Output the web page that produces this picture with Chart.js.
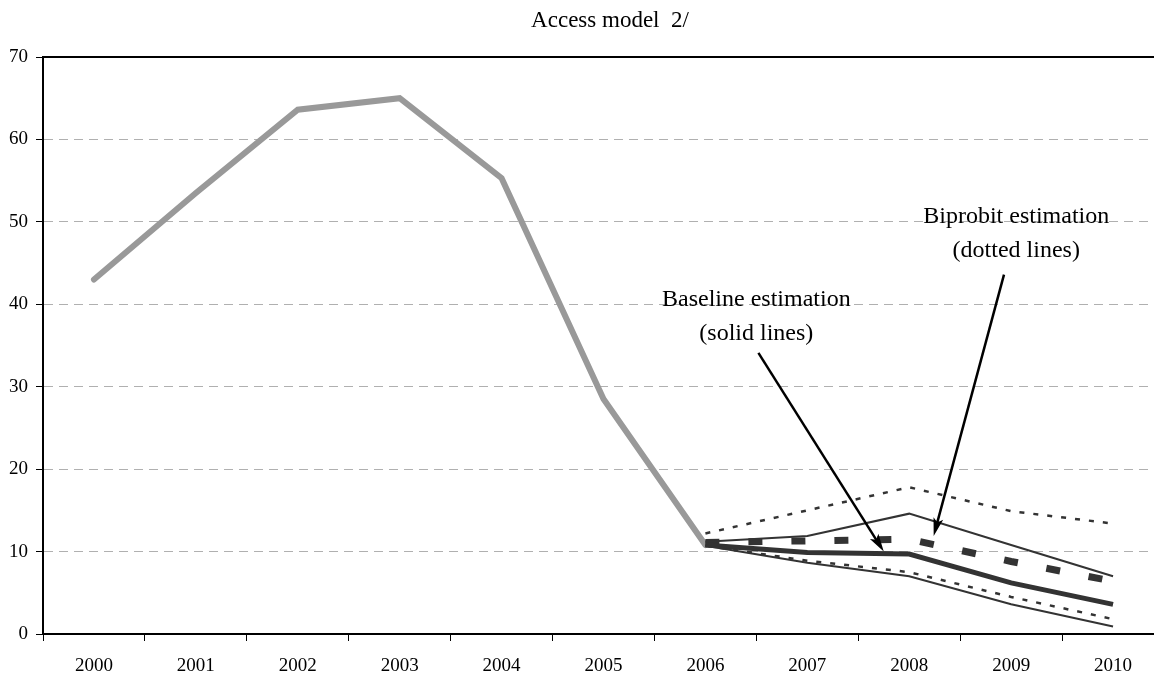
<!DOCTYPE html>
<html>
<head>
<meta charset="utf-8">
<script src="https://cdn.jsdelivr.net/npm/chart.js@4/dist/chart.umd.min.js"></script>
<style>
  html, body { margin: 0; padding: 0; background: #fff; overflow: hidden; }
  #wrap { width: 1154px; height: 677px; overflow: hidden; }
</style>
</head>
<body>
<div id="wrap"><canvas id="accessChart" width="1180" height="677"></canvas></div>
<script>
// years on the category axis
const years = ['2000', '2001', '2002', '2003', '2004', '2005', '2006', '2007', '2008', '2009', '2010'];

// observed series (grey)
const observed = [43, 53.5, 63.6, 65, 55.3, 28.5, 10.8, null, null, null, null];

// baseline estimation (solid lines)
const baselineMean  = [null, null, null, null, null, null, 10.8, 9.9, 9.7, 6.2, 3.6];
const baselineUpper = [null, null, null, null, null, null, 11.2, 11.9, 14.6, 10.8, 7.0];
const baselineLower = [null, null, null, null, null, null, 10.7, 8.65, 7.0, 3.6, 0.9];

// biprobit estimation (dotted lines)
const biprobitMean  = [null, null, null, null, null, null, 11.1, 11.3, 11.5, 8.8, 6.4];
const biprobitUpper = [null, null, null, null, null, null, 12.2, 15.0, 17.8, 14.9, 13.4];
const biprobitLower = [null, null, null, null, null, null, 10.7, 8.9, 7.5, 4.5, 1.8];

const yTicks = [0, 10, 20, 30, 40, 50, 60, 70];

Chart.defaults.font.family = 'Liberation Serif';
Chart.defaults.color = '#000';

//draw the frame, title and the two callouts
const notesPlugin = {
  id: 'notes',
  afterDatasetsDraw(chart) {
    const ctx = chart.ctx;
    const xs = chart.scales.x, ys = chart.scales.y;
    const area = chart.chartArea;
    ctx.save();

    // top frame line
    ctx.strokeStyle = '#000';
    ctx.lineWidth = 2;
    ctx.beginPath();
    ctx.moveTo(area.left, area.top);
    ctx.lineTo(area.right, area.top);
    ctx.stroke();

    // title
    ctx.fillStyle = '#000';
    ctx.textAlign = 'center';
    ctx.textBaseline = 'middle';
    ctx.font = '23px "Liberation Serif"';
    ctx.fillText('Access model  2/', 610, 21);

    // callout text
    ctx.font = '24px "Liberation Serif"';
    ctx.fillText('Baseline estimation', xs.getPixelForValue(6.5), ys.getPixelForValue(40.5));
    ctx.fillText('(solid lines)', xs.getPixelForValue(6.5), ys.getPixelForValue(36.4));
    ctx.fillText('Biprobit estimation', xs.getPixelForValue(9.05), ys.getPixelForValue(50.6));
    ctx.fillText('(dotted lines)', xs.getPixelForValue(9.05), ys.getPixelForValue(46.5));

    // arrows
    function arrow(x0, y0, x1, y1) {
      const ax = xs.getPixelForValue(x0), ay = ys.getPixelForValue(y0);
      const bx = xs.getPixelForValue(x1), by = ys.getPixelForValue(y1);
      const ang = Math.atan2(by - ay, bx - ax);
      ctx.strokeStyle = '#000';
      ctx.lineWidth = 2.5;
      ctx.beginPath();
      ctx.moveTo(ax, ay);
      ctx.lineTo(bx - 8 * Math.cos(ang), by - 8 * Math.sin(ang));
      ctx.stroke();
      ctx.beginPath();
      ctx.moveTo(bx, by);
      ctx.lineTo(bx - 18 * Math.cos(ang) + 5 * Math.sin(ang), by - 18 * Math.sin(ang) - 5 * Math.cos(ang));
      ctx.lineTo(bx - 14 * Math.cos(ang), by - 14 * Math.sin(ang));
      ctx.lineTo(bx - 18 * Math.cos(ang) - 5 * Math.sin(ang), by - 18 * Math.sin(ang) + 5 * Math.cos(ang));
      ctx.closePath();
      ctx.fillStyle = '#000';
      ctx.fill();
    }
    arrow(6.52, 34.1, 7.75, 10.0);
    arrow(8.93, 43.6, 8.24, 11.9);

    ctx.restore();
  }
};

function line(data, color, width, dash, cap) {
  return {
    data: data,
    borderColor: color,
    borderWidth: width,
    borderDash: dash || [],
    borderCapStyle: cap || 'butt',
    pointRadius: 0,
    tension: 0,
    fill: false,
    spanGaps: false
  };
}

let elChart = document.getElementById('accessChart').getContext('2d');
let accessChart = new Chart(elChart, {
  type: 'line',
  data: {
    labels: years,
    datasets: [
      line(biprobitUpper, '#333333', 2.5, [5, 9]),
      line(biprobitLower, '#333333', 2.5, [5, 9]),
      line(baselineUpper, '#333333', 2),
      line(baselineLower, '#333333', 2),
      line(baselineMean, '#333333', 5),
      line(biprobitMean, '#333333', 7, [14, 29]),
      line(observed, '#999999', 6, null, 'round')
    ]
  },
  options: {
    responsive: false,
    animation: false,
    layout: { padding: { top: 57, right: 16, left: 0, bottom: 0 } },
    plugins: {
      legend: { display: false },
      title: { display: false },
      tooltip: { enabled: false }
    },
    scales: {
      x: {
        offset: true,
        grid: { offset: true, drawOnChartArea: false, tickLength: 7, tickColor: '#000', tickWidth: 1 },
        border: { display: true, color: '#000', width: 2 },
        ticks: { font: { size: 19 }, padding: 14, maxRotation: 0 },
        afterFit(scale) { scale.height = 43; }
      },
      y: {
        min: 0,
        max: 70,
        afterBuildTicks(scale) { scale.ticks = yTicks.map(v => ({ value: v })); },
        grid: {
          color: ctx => (ctx.tick && (ctx.tick.value === 0 || ctx.tick.value === 70)) ? 'rgba(0,0,0,0)' : '#b0b0b0',
          lineWidth: 1,
          tickLength: 7,
          tickColor: '#000'
        },
        border: { display: true, color: '#000', width: 2, dash: [9, 6] },
        ticks: { font: { size: 19 }, padding: 8 },
        afterFit(scale) { scale.width = 43; }
      }
    }
  },
  plugins: [notesPlugin]
});
</script>
</body>
</html>
